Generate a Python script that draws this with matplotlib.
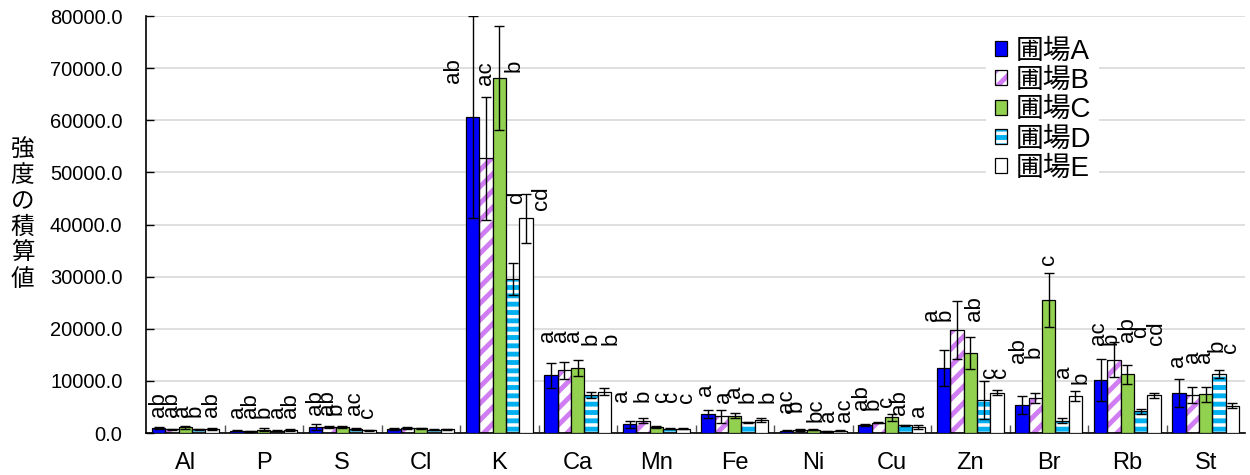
import matplotlib
matplotlib.use('Agg')
import matplotlib.pyplot as plt
from matplotlib.patches import Patch
from matplotlib.ticker import FormatStrFormatter
import numpy as np

plt.rcParams['font.family'] = ['Liberation Sans', 'Noto Sans CJK JP']
plt.rcParams['hatch.linewidth'] = 3.5

elements = ['Al', 'P', 'S', 'Cl', 'K', 'Ca', 'Mn', 'Fe', 'Ni', 'Cu', 'Zn', 'Br', 'Rb', 'St']
fields = ['圃場A', '圃場B', '圃場C', '圃場D', '圃場E']

# mean of each field, per element
field_a = [1000, 400, 1100, 800, 60600, 11100, 1700, 3650, 450, 1450, 12500, 5400, 10200, 7750]
field_b = [700, 350, 1150, 950, 52700, 12000, 2400, 3200, 600, 2000, 19800, 6800, 14100, 7300]
field_c = [1100, 650, 1150, 900, 68200, 12500, 1150, 3350, 650, 3050, 15300, 25600, 11300, 7400]
field_d = [700, 450, 800, 650, 29600, 7350, 800, 2050, 300, 1450, 6300, 2350, 4200, 11300]
field_e = [800, 500, 550, 750, 41200, 7950, 850, 2450, 450, 1100, 7700, 7150, 7200, 5200]

# standard deviations
err_a = [200, 100, 550, 150, 19400, 2400, 650, 800, 100, 200, 3400, 1700, 4000, 2700]
err_b = [150, 100, 200, 250, 11800, 1700, 550, 1300, 150, 150, 5600, 950, 3300, 1450]
err_c = [250, 250, 150, 100, 10000, 1600, 200, 450, 150, 650, 3100, 5200, 1800, 1450]
err_d = [100, 100, 150, 100, 3100, 550, 100, 150, 80, 150, 3700, 480, 480, 800]
err_e = [150, 200, 100, 100, 4700, 600, 100, 350, 120, 350, 500, 960, 420, 480]

# significance letters (A..E for each element)
letters = [
    ['ab', 'ab', 'a', 'b', 'ab'],
    ['a', 'ab', 'b', 'a', 'ab'],
    ['ab', 'ab', 'b', 'ac', 'c'],
    ['', '', '', '', ''],
    ['ab', 'ac', 'b', 'd', 'cd'],
    ['a', 'a', 'a', 'b', 'b'],
    ['a', 'b', 'c', 'c', 'c'],
    ['a', 'a', 'a', 'b', 'b'],
    ['ac', 'b', 'bc', 'a', 'ac'],
    ['ab', 'b', 'c', 'ab', 'a'],
    ['a', 'b', 'ab', 'c', 'c'],
    ['ab', 'b', 'c', 'a', 'b'],
    ['ac', 'b', 'ab', 'd', 'cd'],
    ['a', 'a', 'a', 'b', 'c'],
]

# where the letters sit (bottom of text, y units) and their sideways nudge (x units)
letter_y = [
    [3000, 3000, 3000, 3000, 3000],
    [2900, 2900, 2900, 2900, 2900],
    [3400, 3400, 3400, 3400, 2900],
    [0, 0, 0, 0, 0],
    [67100, 66800, 69300, 43900, 42800],
    [17500, 17500, 17500, 16900, 16900],
    [6000, 6000, 6000, 6000, 5700],
    [7100, 5800, 6650, 5700, 5700],
    [3800, 4100, 2200, 2200, 2200],
    [4400, 4400, 5050, 3450, 3100],
    [21400, 21400, 21400, 10500, 10500],
    [13400, 14300, 32200, 10500, 9500],
    [16900, 16900, 17500, 18200, 16900],
    [12700, 13400, 13400, 15600, 15300],
]
letter_dx = [
    [0, 0, -0.03, -0.04, 0],
    [0, 0, 0, 0, 0],
    [0, -0.02, -0.08, -0.02, -0.02],
    [0, 0, 0, 0, 0],
    [-0.24, 0, 0.19, 0.05, 0.2],
    [-0.05, -0.05, -0.05, 0, 0.08],
    [-0.1, 0, 0.07, 0.03, 0.05],
    [-0.03, 0.03, 0, 0, 0.08],
    [0, -0.05, 0.04, 0.02, 0.06],
    [-0.05, -0.07, -0.07, -0.07, 0],
    [-0.15, -0.15, 0.05, 0.08, 0.05],
    [-0.04, -0.02, 0, 0.02, 0.07],
    [-0.03, -0.03, 0, 0, 0.03],
    [-0.02, 0, -0.02, -0.02, -0.02],
]

means = [field_a, field_b, field_c, field_d, field_e]
errs = [err_a, err_b, err_c, err_d, err_e]

face = ['#0000FF', 'white', '#92D050', 'white', 'white']
hatch_col = [None, '#D07CF2', None, '#00B0F0', None]
hatches = [None, '//', None, '--', None]

fig = plt.figure(figsize=(12.5, 4.75), dpi=100)
ax = fig.add_axes([0.1168, 0.0884, 0.8792, 0.8776])

x = np.arange(len(elements))
w = 0.17
handles = []
for i in range(5):
    xi = x + (i - 2) * w
    if hatches[i]:
        ax.bar(xi, means[i], w, color='white', edgecolor=hatch_col[i],
               hatch=hatches[i], linewidth=0, zorder=2)
        ax.bar(xi, means[i], w, facecolor='none', edgecolor='black',
               linewidth=0.9, zorder=3)
        handles.append((Patch(facecolor='white', edgecolor=hatch_col[i], hatch=hatches[i], linewidth=0),
                        Patch(facecolor='none', edgecolor='black', linewidth=0.9)))
    else:
        ax.bar(xi, means[i], w, color=face[i], edgecolor='black', linewidth=0.9, zorder=3)
        handles.append(Patch(facecolor=face[i], edgecolor='black', linewidth=0.9))
    ax.errorbar(xi, means[i], yerr=errs[i], fmt='none', ecolor='black',
                elinewidth=1, capsize=3.5, capthick=1, zorder=4)
    for j in range(len(elements)):
        if letters[j][i]:
            ax.text(xi[j] + letter_dx[j][i], letter_y[j][i], letters[j][i], rotation=90,
                    ha='center', va='bottom', fontsize=16, zorder=5)

ax.set_xlim(-0.5, 13.5)
ax.set_ylim(0, 80000)
ax.set_yticks(np.arange(0, 80001, 10000))
ax.yaxis.set_major_formatter(FormatStrFormatter('%.1f'))
ax.set_xticks(x)
ax.set_xticklabels(elements)
ax.set_xticks(np.arange(0.5, 13.5, 1), minor=True)
ax.tick_params(axis='x', which='major', length=0, pad=14, labelsize=17)
ax.tick_params(axis='x', which='minor', direction='in', length=6, width=1, color='#555555')
ax.tick_params(axis='y', direction='in', length=6, width=1, pad=17, labelsize=14.5)

ax.yaxis.grid(True, color='#D9D9D9', linewidth=1.2, zorder=0)
ax.set_axisbelow(True)
ax.spines['top'].set_visible(False)
ax.spines['right'].set_visible(False)
ax.spines['left'].set_linewidth(1.2)
ax.spines['bottom'].set_linewidth(1.2)

fig.text(0.018, 0.547, '\n'.join('強度の積算値'), ha='center', va='center',
         fontsize=17, linespacing=1.22)

leg = ax.legend(handles, fields, loc='upper left', bbox_to_anchor=(0.752, 1.0),
                fontsize=20, handlelength=0.45, handleheight=0.45, handletextpad=0.3,
                labelspacing=0.12, frameon=True, framealpha=1, edgecolor='none',
                fancybox=False, borderpad=0.3)

fig.savefig('out.png', dpi=100)
